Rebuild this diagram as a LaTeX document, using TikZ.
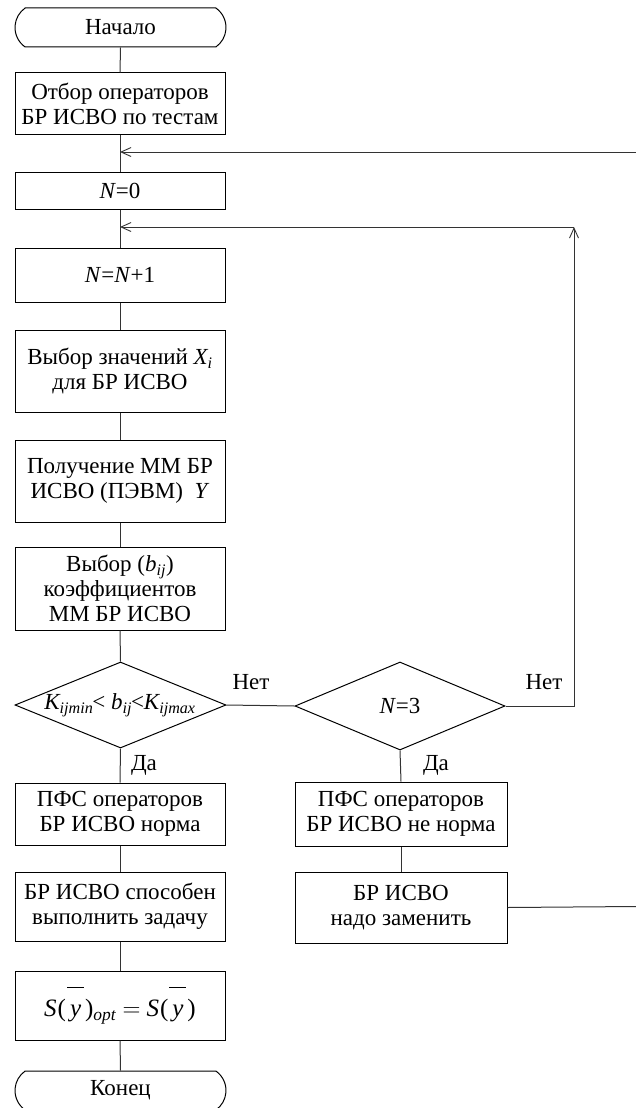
\documentclass[tikz,border=0pt]{standalone}
\usepackage{fontspec}
\setmainfont{Liberation Serif}
\usetikzlibrary{arrows.meta,shapes.geometric,shapes.misc}
\newcommand\ovlY{\leavevmode\rlap{\kern-3pt\raisebox{28pt}{\rule{17pt}{1pt}}}\textit{y}}
\tikzset{
  every node/.style={font=\fontsize{23}{25}\selectfont},
  proc/.style={draw, line width=1pt, align=center, inner sep=0pt, minimum width=#1},
  proc/.default=210pt,
  term/.style={draw, line width=1pt, rounded rectangle, rounded rectangle arc length=110, inner sep=0pt, minimum width=211pt, minimum height=39pt},
  dia/.style={draw, line width=1pt, diamond, inner sep=0pt, shape aspect=2.4},
  conn/.style={line width=1pt, draw=black!80},
  arr/.style={conn, -{Straight Barb[length=10pt,width=9pt,line width=0.9pt]}},
  lbl/.style={inner sep=0pt}
}
\begin{document}
\begin{tikzpicture}[x=1pt,y=1pt]
\useasboundingbox (0,0) rectangle (636,-1108);
% left column
\node[term] (start) at (120.5,-27.5) {Начало};
\node[proc, minimum height=61pt] (b1) at (120,-103.5) {Отбор операторов\\БР ИСВО по тестам};
\node[proc, minimum height=37pt] (b2) at (120,-190.5) {\textit{N}=0};
\node[proc, minimum height=54pt] (b3) at (120,-275) {\textit{N}=\textit{N}+1};
\node[proc, minimum height=82pt] (b4) at (120,-371) {Выбор значений \textit{X\textsubscript{i}}\\для БР ИСВО};
\node[proc, minimum height=82pt] (b5) at (120,-481) {Получение ММ БР\\ИСВО (ПЭВМ) \ \textit{Y}};
\node[proc, minimum height=83pt] (b6) at (120,-588.5) {Выбор (\textit{b\textsubscript{ij}})\\коэффициентов\\ММ БР ИСВО};
\node[dia, minimum width=211pt, minimum height=86pt] (d1) at (120.5,-705) {};
\node[lbl] (d1t) at (120,-705) {\textit{K\textsubscript{ijmin}}\kern-1pt< \textit{b\textsubscript{ij}}\kern-1pt<\textit{K\textsubscript{ijmax}}};
\node[proc, minimum height=62pt] (p1) at (120,-814) {ПФС операторов\\БР ИСВО норма};
\node[proc, minimum height=69pt] (b7) at (120,-906.5) {БР ИСВО способен\\выполнить задачу};
\node[proc, minimum height=69pt, font=\fontsize{25}{27}\selectfont] (b8) at (120,-1005.5) {\raisebox{0pt}[18pt][6pt]{}\textit{S}\kern1pt(\kern4pt\ovlY\kern4pt)\textsubscript{\textit{opt}}\kern6pt$=$\kern6pt\textit{S}\kern1pt(\kern4pt\ovlY\kern4pt)};
\node[term] (end) at (120.5,-1090.5) {Конец};
% right column
\node[dia, minimum width=210pt, minimum height=88pt] (d2) at (400,-706) {};
\node[lbl] (d2t) at (400,-706) {\textit{N}=3};
\node[proc=212pt, minimum height=64pt] (p2) at (401,-814) {ПФС операторов\\БР ИСВО не норма};
\node[proc=212pt, minimum height=71pt] (b9) at (401,-907.5) {БР ИСВО\\надо заменить};
% labels
\node[lbl] (n1) at (251,-682) {Нет};
\node[lbl] (n2) at (544,-682) {Нет};
\node[lbl] (y1) at (144,-765) {Да};
\node[lbl] (y2) at (436,-765) {Да};
% coordinates
\coordinate (m1) at (120,-152);
\coordinate (m2) at (120,-227);
\coordinate (r1) at (636,-152);
\coordinate (c2) at (574,-227);
\coordinate (r3) at (636,-906.5);
% connectors
\draw[conn] (start.south) -- (b1.north);
\draw[conn] (b1.south) -- (b2.north);
\draw[conn] (b2.south) -- (b3.north);
\draw[conn] (b3.south) -- (b4.north);
\draw[conn] (b4.south) -- (b5.north);
\draw[conn] (b5.south) -- (b6.north);
\draw[conn] (b6.south) -- (d1.north);
\draw[conn] (d1.south) -- (p1.north);
\draw[conn] (p1.south) -- (b7.north);
\draw[conn] (b7.south) -- (b8.north);
\draw[conn] (b8.south) -- (end.north);
\draw[conn] (d1.east) -- (d2.west);
\draw[conn] (d2.south) -- (p2.north);
\draw[conn] (p2.south) -- (b9.north);
\draw[conn] (b9.east) -- (r3);
\draw[arr] (r1) -- (m1);
\draw[arr] (d2.east) -| (c2);
\draw[arr] (c2) -- (m2);
\end{tikzpicture}
\end{document}
